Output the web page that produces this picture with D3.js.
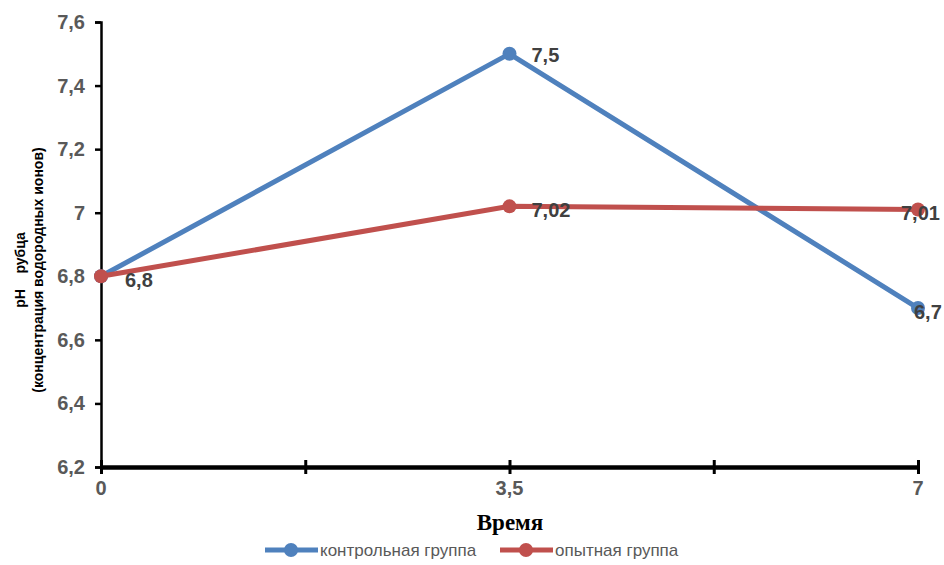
<!DOCTYPE html>
<html><head><meta charset="utf-8">
<script src="https://cdn.jsdelivr.net/npm/d3@7"></script>
<style>body{margin:0;background:#fff}svg{display:block}</style>
</head><body>
<script>
const xValues = [0, 3.5, 7];
const controlValues = [6.8, 7.5, 6.7];
const experimentValues = [6.8, 7.02, 7.01];
const controlLabels = ["", "7,5", "6,7"];
const experimentLabels = ["6,8", "7,02", "7,01"];
const yTicks = [6.2, 6.4, 6.6, 6.8, 7, 7.2, 7.4, 7.6];
const xTicks = [0, 3.5, 7];
const xMinorTicks = [1.75, 5.25];
const seriesNames = ["контрольная группа", "опытная группа"];

const W = 944, H = 565;
const svg = d3.select("body").append("svg").attr("width", W).attr("height", H);
const x = d3.scaleLinear().domain([0, 7]).range([101, 918]);
const y = d3.scaleLinear().domain([6.2, 7.6]).range([467, 22]);
const fmt = v => String(v).replace(".", ",");
const labelFont = "bold 20px 'Liberation Sans', sans-serif";

// y tick labels
svg.append("g").selectAll("text").data(yTicks).join("text")
  .attr("x", 85).attr("y", d => y(d)).attr("dy", "0.35em")
  .attr("text-anchor", "end").attr("fill", "#595959")
  .style("font", labelFont).text(fmt);

// y axis
const yAxis = svg.append("g").attr("transform", "translate(101,0)")
  .call(d3.axisLeft(y).tickValues(yTicks).tickSize(6).tickFormat(""));
yAxis.select(".domain").attr("stroke", "#000").attr("stroke-width", 2.5);
yAxis.selectAll(".tick line").attr("stroke", "#000").attr("stroke-width", 2.5);

// x axis
const xAxis = svg.append("g").attr("transform", "translate(0,467)")
  .call(d3.axisBottom(x).tickValues(xTicks.concat(xMinorTicks)).tickSizeInner(7).tickSizeOuter(0).tickFormat(""));
xAxis.select(".domain").attr("stroke", "#000").attr("stroke-width", 4.5);
xAxis.selectAll(".tick line").attr("stroke", "#000").attr("stroke-width", 3).attr("y1", -7).attr("y2", 7);

svg.append("g").selectAll("text").data(xTicks).join("text")
  .attr("x", d => x(d)).attr("y", 495)
  .attr("text-anchor", "middle").attr("fill", "#595959")
  .style("font", labelFont).text(fmt);

// x title
svg.append("text").attr("x", 510).attr("y", 530).attr("text-anchor", "middle")
  .attr("fill", "#000").style("font", "bold 23px 'Liberation Serif', serif").text("Время");

// y title
const yt = svg.append("text").attr("transform", "translate(0,270) rotate(-90)")
  .attr("text-anchor", "middle").attr("fill", "#000")
  .style("font", "bold 14px 'Liberation Sans', sans-serif");
yt.append("tspan").attr("x", 0).attr("y", 25).text("pH\u00A0\u00A0\u00A0\u00A0рубца");
yt.append("tspan").attr("x", 0).attr("y", 43).text("(концентрация водородных ионов)");

const series = [
  {vals: controlValues, labels: controlLabels, color: "#4F81BD", dx: [22, 22, -4], dy: [7, 8, 11]},
  {vals: experimentValues, labels: experimentLabels, color: "#C0504D", dx: [24, 22, -17], dy: [11, 11, 10]}
];
const line = d3.line().x((d, i) => x(xValues[i])).y(d => y(d));
series.forEach(s => {
  const g = svg.append("g");
  g.append("path").datum(s.vals).attr("d", line).attr("fill", "none")
    .attr("stroke", s.color).attr("stroke-width", 5);
  g.selectAll("circle").data(s.vals).join("circle")
    .attr("cx", (d, i) => x(xValues[i])).attr("cy", d => y(d)).attr("r", 7).attr("fill", s.color);
});
series.forEach(s => {
  svg.append("g").selectAll("text").data(s.vals).join("text")
    .attr("x", (d, i) => x(xValues[i]) + s.dx[i])
    .attr("y", (d, i) => y(d) + s.dy[i])
    .attr("fill", "#404040")
    .style("font", labelFont)
    .text((d, i) => s.labels[i]);
});

// legend
const leg = svg.append("g");
[{x0: 265, color: "#4F81BD"}, {x0: 500, color: "#C0504D"}].forEach((l, i) => {
  leg.append("line").attr("x1", l.x0).attr("x2", l.x0 + 53).attr("y1", 550).attr("y2", 550)
    .attr("stroke", l.color).attr("stroke-width", 5);
  leg.append("circle").attr("cx", l.x0 + 26).attr("cy", 550).attr("r", 7).attr("fill", l.color);
  leg.append("text").attr("x", l.x0 + 55).attr("y", 550).attr("dy", "0.35em")
    .attr("fill", "#595959")
    .style("font", "17px 'Liberation Sans', sans-serif")
    .text(seriesNames[i]);
});
</script>
</body></html>
